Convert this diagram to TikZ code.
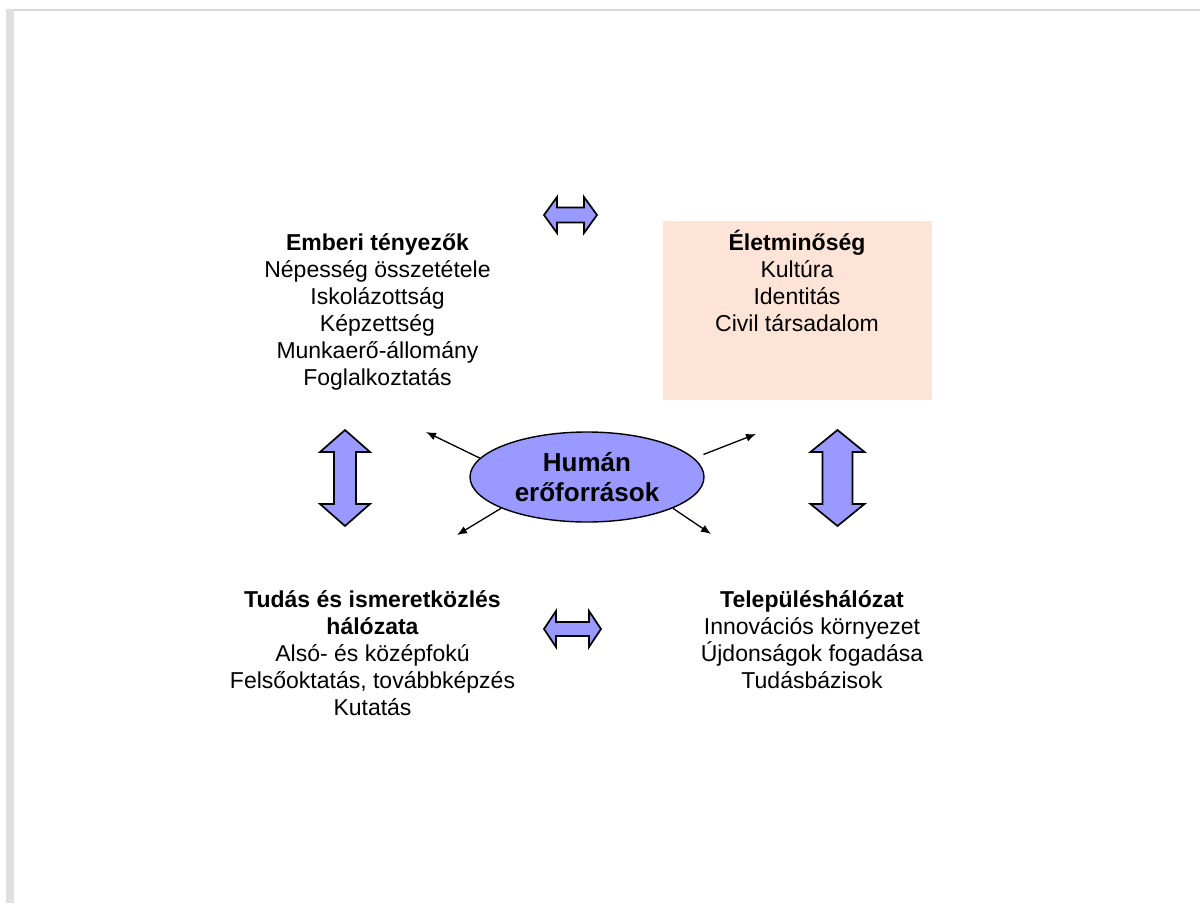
\documentclass[tikz,border=0pt]{standalone}
\usepackage{fontspec}
\setmainfont{Liberation Sans}
\usetikzlibrary{arrows.meta,shapes.geometric}
\definecolor{arrowblue}{RGB}{153,153,255}
\definecolor{peach}{RGB}{253,228,214}
\definecolor{framegrey}{RGB}{224,224,224}
\definecolor{frameline}{RGB}{214,214,214}
\tikzset{
  dblarrow/.style={fill=arrowblue, draw=black, line width=1.7pt, line join=miter},
  txt/.style={anchor=base, inner sep=0pt, font=\fontsize{23}{27}\selectfont},
  ttl/.style={txt, font=\bfseries\fontsize{23}{27}\selectfont},
  thinarrow/.style={draw=black, line width=1.3pt, -{Latex[length=10pt,width=8pt]}},
}
% horizontal double arrow: cx, cy, half length, head length, head half-height, body half-height
\newcommand\hdblarrow[6]{%
  \pgfmathsetmacro\dAxa{#1-#3}\pgfmathsetmacro\dAxb{#1-#3+#4}%
  \pgfmathsetmacro\dAxc{#1+#3-#4}\pgfmathsetmacro\dAxd{#1+#3}%
  \pgfmathsetmacro\dAya{#2-#5}\pgfmathsetmacro\dAyb{#2-#6}%
  \pgfmathsetmacro\dAyc{#2+#6}\pgfmathsetmacro\dAyd{#2+#5}%
  \draw[dblarrow] (\dAxa,#2) -- (\dAxb,\dAya) -- (\dAxb,\dAyb) -- (\dAxc,\dAyb) -- (\dAxc,\dAya)
    -- (\dAxd,#2) -- (\dAxc,\dAyd) -- (\dAxc,\dAyc) -- (\dAxb,\dAyc) -- (\dAxb,\dAyd) -- cycle;}
% vertical double arrow: cx, cy, half length, head length, head half-width, body half-width
\newcommand\vdblarrow[6]{%
  \pgfmathsetmacro\dAya{#2-#3}\pgfmathsetmacro\dAyb{#2-#3+#4}%
  \pgfmathsetmacro\dAyc{#2+#3-#4}\pgfmathsetmacro\dAyd{#2+#3}%
  \pgfmathsetmacro\dAxa{#1-#5}\pgfmathsetmacro\dAxb{#1-#6}%
  \pgfmathsetmacro\dAxc{#1+#6}\pgfmathsetmacro\dAxd{#1+#5}%
  \draw[dblarrow] (#1,\dAya) -- (\dAxd,\dAyb) -- (\dAxc,\dAyb) -- (\dAxc,\dAyc) -- (\dAxd,\dAyc)
    -- (#1,\dAyd) -- (\dAxa,\dAyc) -- (\dAxb,\dAyc) -- (\dAxb,\dAyb) -- (\dAxa,\dAyb) -- cycle;}
\begin{document}
\begin{tikzpicture}[x=1pt,y=-1pt]
\useasboundingbox (0,0) rectangle (1200,903);
\fill[white] (0,0) rectangle (1200,903);
% page frame
\fill[frameline] (6,9) rectangle (1200,11);
\fill[framegrey] (6,9) rectangle (14,903);

% pink box
\node[fill=peach, minimum width=269pt, minimum height=179pt, inner sep=0pt] (lqbox) at (797.5,310.5) {};

% Emberi tényezők
\node[ttl] (e1) at (377.5,250) {Emberi tényezők};
\node[txt] (e2) at (377.5,277) {Népesség összetétele};
\node[txt] (e3) at (377.5,304) {Iskolázottság};
\node[txt] (e4) at (377.5,331) {Képzettség};
\node[txt] (e5) at (377.5,358) {Munkaerő-állomány};
\node[txt] (e6) at (377.5,385) {Foglalkoztatás};

% Életminőség
\node[ttl] (l1) at (797,250) {Életminőség};
\node[txt] (l2) at (797,277) {Kultúra};
\node[txt] (l3) at (797,304) {Identitás};
\node[txt] (l4) at (797,331) {Civil társadalom};

% Tudás
\node[ttl] (t1) at (372.5,607) {Tudás és ismeretközlés};
\node[ttl] (t2) at (372.5,634) {hálózata};
\node[txt] (t3) at (372.5,661) {Alsó- és középfokú};
\node[txt] (t4) at (372.5,688) {Felsőoktatás, továbbképzés};
\node[txt] (t5) at (372.5,715) {Kutatás};

% Településhálózat
\node[ttl] (s1) at (812,607) {Településhálózat};
\node[txt] (s2) at (812,634) {Innovációs környezet};
\node[txt] (s3) at (812,661) {Újdonságok fogadása};
\node[txt] (s4) at (812,688) {Tudásbázisok};

% double arrows
\hdblarrow{570.5}{215}{26.5}{13}{18}{7.5}
\hdblarrow{572.5}{629}{28.5}{12}{18}{7}
\vdblarrow{345}{478}{48}{22}{25}{11}
\vdblarrow{837.5}{478}{48}{22}{27}{15}

% central ellipse
\node[ellipse, fill=arrowblue, draw=black, line width=1.4pt, minimum width=234pt, minimum height=90pt,
      inner sep=0pt, align=center, font=\bfseries\fontsize{26}{30.5}\selectfont] (hr) at (587,477)
      {Humán\\erőforrások};

\coordinate (nw) at (426,432);
\coordinate (ne) at (756,434);
\coordinate (sw) at (457,535);
\coordinate (se) at (711,534);
\draw[thinarrow] (hr.170) -- (nw);
\draw[thinarrow, shorten <=10pt] (hr.10) -- (ne);
\draw[thinarrow] (hr.200) -- (sw);
\draw[thinarrow] (hr.-20) -- (se);
\end{tikzpicture}
\end{document}
